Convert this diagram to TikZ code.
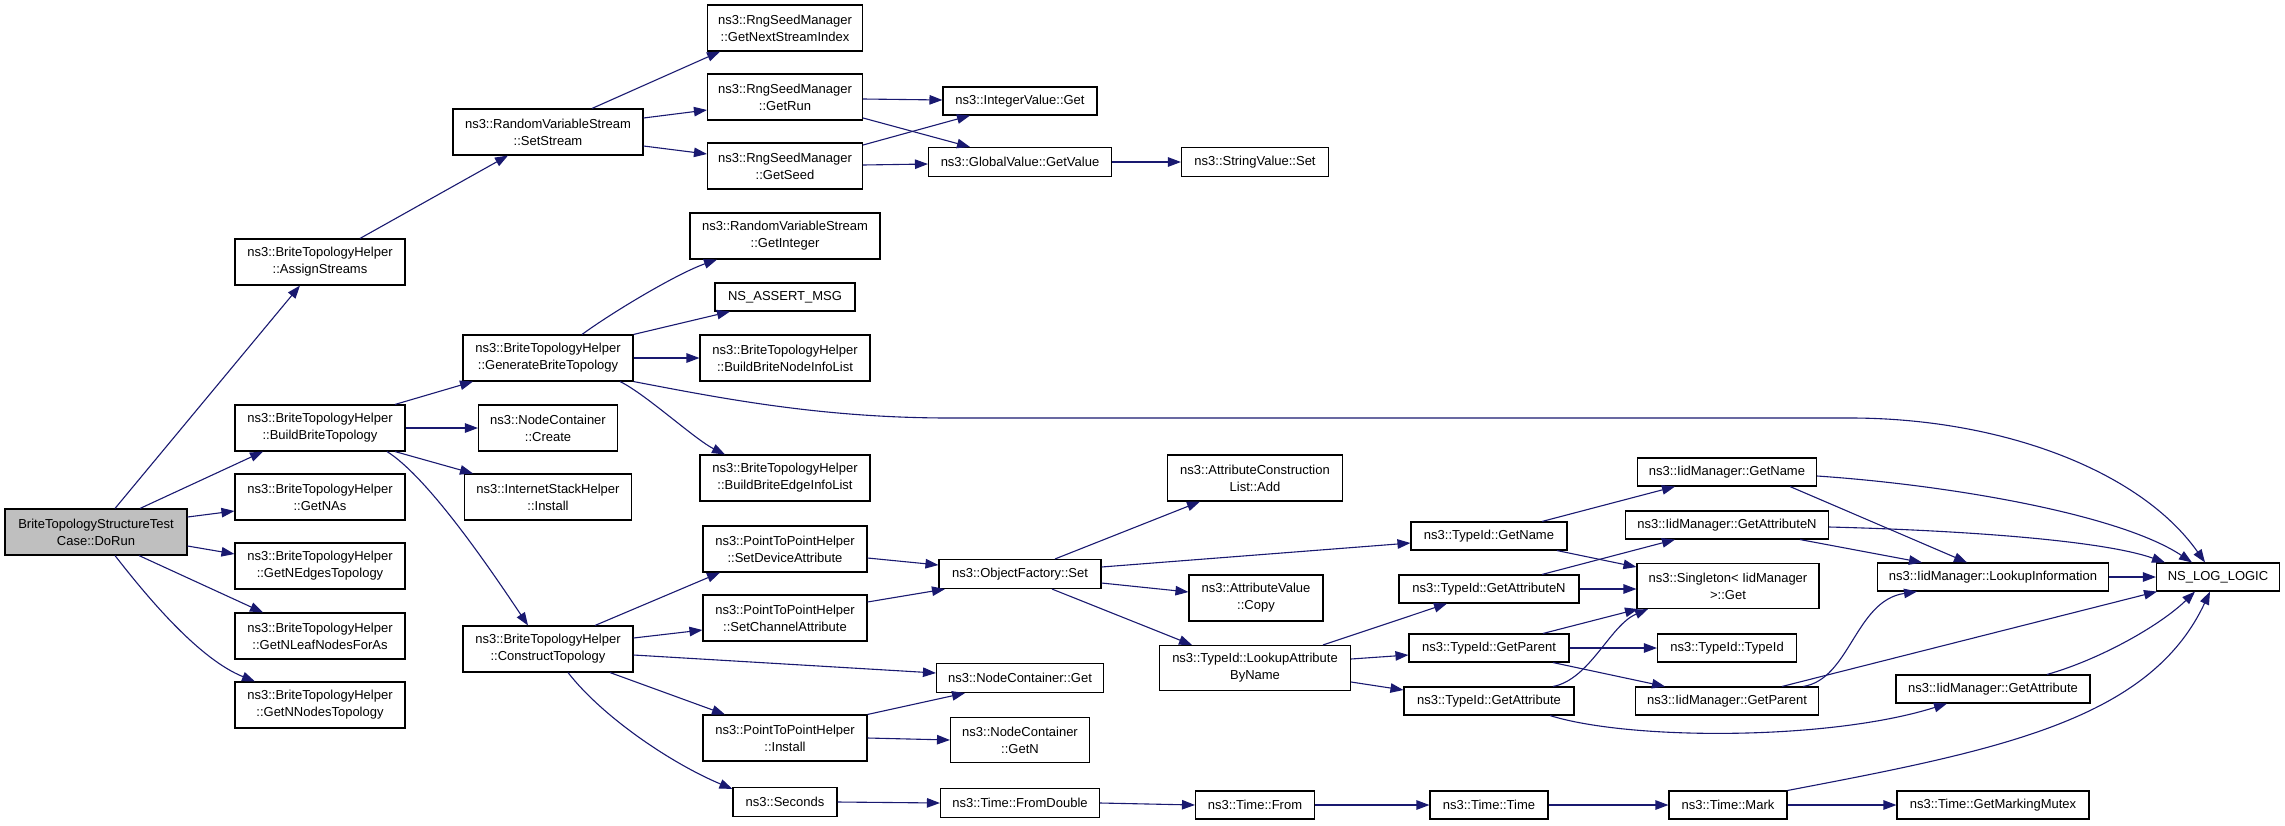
\documentclass[tikz,border=0pt]{standalone}
\usepackage{fontspec}
\setmainfont{Liberation Sans}
\usetikzlibrary{arrows.meta}
\definecolor{edgeblue}{RGB}{25,25,112}
\definecolor{rootgray}{RGB}{191,191,191}
\begin{document}
\begin{tikzpicture}[x=1pt,y=-1pt,
  fn/.style={draw=black, line width=1.1pt, fill=white, inner sep=0pt, align=center, font=\fontsize{13}{17}\selectfont},
  edge/.style={draw=edgeblue, line width=1.1pt, -{Triangle[length=13pt,width=9.5pt]}, fill=none},
]
\useasboundingbox (0,0) rectangle (2285,825);
% nodes
\node[fn, fill=rootgray, minimum width=182pt, minimum height=46pt] (dorun) at (96,532) {BriteTopologyStructureTest\\Case::DoRun};
\node[fn, minimum width=170pt, minimum height=46pt] (assign) at (320,262) {ns3::BriteTopologyHelper\\::AssignStreams};
\node[fn, minimum width=170pt, minimum height=46pt] (build) at (320,428) {ns3::BriteTopologyHelper\\::BuildBriteTopology};
\node[fn, minimum width=170pt, minimum height=46pt] (getnas) at (320,497) {ns3::BriteTopologyHelper\\::GetNAs};
\node[fn, minimum width=170pt, minimum height=46pt] (getnedges) at (320,566) {ns3::BriteTopologyHelper\\::GetNEdgesTopology};
\node[fn, minimum width=170pt, minimum height=46pt] (getnleaf) at (320,636) {ns3::BriteTopologyHelper\\::GetNLeafNodesForAs};
\node[fn, minimum width=170pt, minimum height=46pt] (getnnodes) at (320,705) {ns3::BriteTopologyHelper\\::GetNNodesTopology};
\node[fn, minimum width=190pt, minimum height=46pt] (setstream) at (548,132) {ns3::RandomVariableStream\\::SetStream};
\node[fn, minimum width=155pt, minimum height=46pt] (nextidx) at (785,28) {ns3::RngSeedManager\\::GetNextStreamIndex};
\node[fn, minimum width=155pt, minimum height=46pt] (getrun) at (785,97) {ns3::RngSeedManager\\::GetRun};
\node[fn, minimum width=155pt, minimum height=46pt] (getseed) at (785,166) {ns3::RngSeedManager\\::GetSeed};
\node[fn, minimum width=190pt, minimum height=46pt] (getinteger) at (785,236) {ns3::RandomVariableStream\\::GetInteger};
\node[fn, minimum width=140pt, minimum height=28pt] (assertmsg) at (785,297) {NS\_ASSERT\_MSG};
\node[fn, minimum width=170pt, minimum height=46pt] (nodeinfo) at (785,358) {ns3::BriteTopologyHelper\\::BuildBriteNodeInfoList};
\node[fn, minimum width=170pt, minimum height=46pt] (generate) at (548,358) {ns3::BriteTopologyHelper\\::GenerateBriteTopology};
\node[fn, minimum width=139pt, minimum height=46pt] (create) at (548,428) {ns3::NodeContainer\\::Create};
\node[fn, minimum width=167pt, minimum height=46pt] (inetinstall) at (548,497) {ns3::InternetStackHelper\\::Install};
\node[fn, minimum width=170pt, minimum height=46pt] (edgeinfo) at (785,478) {ns3::BriteTopologyHelper\\::BuildBriteEdgeInfoList};
\node[fn, minimum width=164pt, minimum height=46pt] (setdev) at (785,549) {ns3::PointToPointHelper\\::SetDeviceAttribute};
\node[fn, minimum width=164pt, minimum height=46pt] (setchan) at (785,618) {ns3::PointToPointHelper\\::SetChannelAttribute};
\node[fn, minimum width=170pt, minimum height=46pt] (construct) at (548,649) {ns3::BriteTopologyHelper\\::ConstructTopology};
\node[fn, minimum width=164pt, minimum height=46pt] (p2pinstall) at (785,738) {ns3::PointToPointHelper\\::Install};
\node[fn, minimum width=104pt, minimum height=29pt] (seconds) at (785,802) {ns3::Seconds};
\node[fn, minimum width=154pt, minimum height=28pt] (intget) at (1020,101) {ns3::IntegerValue::Get};
\node[fn, minimum width=183pt, minimum height=29pt] (getvalue) at (1020,162) {ns3::GlobalValue::GetValue};
\node[fn, minimum width=147pt, minimum height=29pt] (strset) at (1255,162) {ns3::StringValue::Set};
\node[fn, minimum width=175pt, minimum height=46pt] (attradd) at (1255,478) {ns3::AttributeConstruction\\List::Add};
\node[fn, minimum width=162pt, minimum height=29pt] (ofset) at (1020,574) {ns3::ObjectFactory::Set};
\node[fn, minimum width=134pt, minimum height=46pt] (attrcopy) at (1256,598) {ns3::AttributeValue\\::Copy};
\node[fn, minimum width=191pt, minimum height=45pt] (lookupattr) at (1255,668) {ns3::TypeId::LookupAttribute\\ByName};
\node[fn, minimum width=167pt, minimum height=29pt] (ncget) at (1020,678) {ns3::NodeContainer::Get};
\node[fn, minimum width=139pt, minimum height=45pt] (ncgetn) at (1020,740) {ns3::NodeContainer\\::GetN};
\node[fn, minimum width=159pt, minimum height=29pt] (fromdouble) at (1020,803) {ns3::Time::FromDouble};
\node[fn, minimum width=119pt, minimum height=28pt] (from) at (1255,805) {ns3::Time::From};
\node[fn, minimum width=179pt, minimum height=28pt] (iidgetname) at (1727,472) {ns3::IidManager::GetName};
\node[fn, minimum width=156pt, minimum height=28pt] (tidgetname) at (1489,536) {ns3::TypeId::GetName};
\node[fn, minimum width=203pt, minimum height=28pt] (iidgetattrn) at (1727,525) {ns3::IidManager::GetAttributeN};
\node[fn, minimum width=182pt, minimum height=45pt] (singleton) at (1728,586) {ns3::Singleton< IidManager\\>::Get};
\node[fn, minimum width=180pt, minimum height=28pt] (tidgetattrn) at (1489,589) {ns3::TypeId::GetAttributeN};
\node[fn, minimum width=160pt, minimum height=28pt] (tidgetparent) at (1489,648) {ns3::TypeId::GetParent};
\node[fn, minimum width=139pt, minimum height=28pt] (tidtypeid) at (1727,648) {ns3::TypeId::TypeId};
\node[fn, minimum width=170pt, minimum height=28pt] (tidgetattr) at (1489,701) {ns3::TypeId::GetAttribute};
\node[fn, minimum width=183pt, minimum height=28pt] (iidgetparent) at (1727,701) {ns3::IidManager::GetParent};
\node[fn, minimum width=118pt, minimum height=28pt] (timetime) at (1489,805) {ns3::Time::Time};
\node[fn, minimum width=118pt, minimum height=28pt] (mark) at (1728,805) {ns3::Time::Mark};
\node[fn, minimum width=231pt, minimum height=28pt] (lookupinfo) at (1993,577) {ns3::IidManager::LookupInformation};
\node[fn, minimum width=123pt, minimum height=28pt] (nslog) at (2218,577) {NS\_LOG\_LOGIC};
\node[fn, minimum width=194pt, minimum height=28pt] (iidgetattr) at (1993,689) {ns3::IidManager::GetAttribute};
\node[fn, minimum width=192pt, minimum height=28pt] (mutex) at (1993,805) {ns3::Time::GetMarkingMutex};
% edges
\draw[edge] ([xshift=19pt]dorun.north) -- ([xshift=-20pt]assign.south);
\draw[edge] ([xshift=44pt]dorun.north) -- ([xshift=-57pt]build.south);
\draw[edge] ([yshift=15pt]dorun.east) -- ([yshift=-14pt]getnas.west);
\draw[edge] ([yshift=-14pt]dorun.east) -- ([yshift=12pt]getnedges.west);
\draw[edge] ([xshift=43pt]dorun.south) -- ([xshift=-57pt]getnleaf.north);
\draw[edge] ([xshift=19pt]dorun.south) .. controls +(35,45) and +(-55,-22) .. ([xshift=-65pt]getnnodes.north);
\draw[edge] ([xshift=40pt]assign.north) -- ([xshift=-40pt]setstream.south);
\draw[edge] ([xshift=44pt]setstream.north) -- ([xshift=-65pt]nextidx.south);
\draw[edge] ([yshift=14pt]setstream.east) -- ([yshift=-13pt]getrun.west);
\draw[edge] ([yshift=-14pt]setstream.east) -- ([yshift=12pt]getseed.west);
\draw[edge] ([yshift=-2pt]getrun.east) -- ([yshift=1pt]intget.west);
\draw[edge] ([yshift=-21pt]getrun.east) -- ([xshift=-50pt]getvalue.north);
\draw[edge] ([yshift=21pt]getseed.east) -- ([xshift=-50pt]intget.south);
\draw[edge] ([yshift=1pt]getseed.east) -- ([yshift=-2pt]getvalue.west);
\draw[edge] (getvalue.east) -- (strset.west);
\draw[edge] ([xshift=75pt]build.north) -- ([xshift=-75pt]generate.south);
\draw[edge] (build.east) -- (create.west);
\draw[edge] ([xshift=75pt]build.south) -- ([xshift=-75pt]inetinstall.north);
\draw[edge] ([xshift=67pt]build.south) .. controls +(40,25) and +(-40,-60) .. ([xshift=-20pt]construct.north);
\draw[edge] ([xshift=34pt]generate.north) .. controls +(30,-22) and +(-40,14) .. ([xshift=-68pt]getinteger.south);
\draw[edge] (generate.north east) -- ([xshift=-55pt]assertmsg.south);
\draw[edge] (generate.east) -- (nodeinfo.west);
\draw[edge] ([xshift=72pt]generate.south) .. controls +(25,12) and +(-30,-15) .. ([xshift=-60pt]edgeinfo.north);
\draw[edge] (generate.south east) .. controls (720,398) and (820,418) .. (950,418) -- (1850,418) .. controls (2000,418) and (2140,470) .. ([xshift=-13pt]nslog.north);
\draw[edge] ([xshift=47pt]construct.north) -- ([xshift=-65pt]setdev.south);
\draw[edge] ([yshift=11pt]construct.east) -- ([yshift=-12pt]setchan.west);
\draw[edge] ([yshift=-6pt]construct.east) -- ([yshift=5pt]ncget.west);
\draw[edge] ([xshift=62pt]construct.south) -- ([xshift=-60pt]p2pinstall.north);
\draw[edge] ([xshift=20pt]construct.south) .. controls +(35,45) and +(-60,-25) .. ([yshift=-2pt]seconds.north west);
\draw[edge] ([yshift=-9pt]setdev.east) -- ([yshift=9pt]ofset.west);
\draw[edge] ([yshift=16pt]setchan.east) -- ([xshift=-75pt]ofset.south);
\draw[edge] (p2pinstall.north east) -- ([xshift=-55pt]ncget.south);
\draw[edge] (p2pinstall.east) -- (ncgetn.west);
\draw[edge] (seconds.east) -- (fromdouble.west);
\draw[edge] (fromdouble.east) -- (from.west);
\draw[edge] (from.east) -- (timetime.west);
\draw[edge] (timetime.east) -- (mark.west);
\draw[edge] (mark.east) -- (mutex.west);
\draw[edge] (mark.north east) .. controls (2000,750) and (2150,720) .. ([xshift=-8pt]nslog.south);
\draw[edge] ([xshift=35pt]ofset.north) -- ([xshift=-55pt]attradd.south);
\draw[edge] ([yshift=7pt]ofset.east) -- ([yshift=-7pt]tidgetname.west);
\draw[edge] ([yshift=-9pt]ofset.east) -- ([yshift=6pt]attrcopy.west);
\draw[edge] ([xshift=32pt]ofset.south) -- ([xshift=-63pt]lookupattr.north);
\draw[edge] ([xshift=68pt]lookupattr.north) -- ([xshift=-42pt]tidgetattrn.south);
\draw[edge] ([yshift=9pt]lookupattr.east) -- ([yshift=-7pt]tidgetparent.west);
\draw[edge] ([yshift=-14pt]lookupattr.east) -- ([yshift=11pt]tidgetattr.west);
\draw[edge] ([xshift=53pt]tidgetname.north) -- ([xshift=-52pt]iidgetname.south);
\draw[edge] ([xshift=68pt]tidgetname.south) -- ([yshift=19pt]singleton.west);
\draw[edge] ([xshift=53pt]tidgetattrn.north) -- ([xshift=-52pt]iidgetattrn.south);
\draw[edge] (tidgetattrn.east) -- ([yshift=-3pt]singleton.west);
\draw[edge] ([xshift=54pt]tidgetparent.north) -- ([xshift=-90pt]singleton.south);
\draw[edge] (tidgetparent.east) -- (tidtypeid.west);
\draw[edge] ([xshift=64pt]tidgetparent.south) -- ([xshift=-62pt]iidgetparent.north);
\draw[edge] ([xshift=64pt]tidgetattr.north) .. controls +(37,-7) and +(-38,16) .. ([xshift=-80pt]singleton.south);
\draw[edge] ([xshift=61pt]tidgetattr.south) .. controls +(80,25) and +(-117,37) .. ([xshift=-46pt]iidgetattr.south);
\draw[edge] ([yshift=-4pt]iidgetname.east) .. controls +(133,9) and +(-72,-48) .. ([xshift=-26pt]nslog.north);
\draw[edge] ([xshift=63pt]iidgetname.south) -- ([xshift=-26pt]lookupinfo.north);
\draw[edge] ([yshift=-2pt]iidgetattrn.east) .. controls +(121,3) and +(-65,-23) .. ([xshift=-53pt]nslog.north);
\draw[edge] ([xshift=73pt]iidgetattrn.south) -- ([xshift=-71pt]lookupinfo.north);
\draw[edge] ([xshift=76pt]iidgetparent.north) .. controls +(47,-7) and +(-62,9) .. ([xshift=-76pt]lookupinfo.south);
\draw[edge] ([xshift=55pt]iidgetparent.north) -- ([xshift=-61pt]nslog.south);
\draw[edge] (lookupinfo.east) -- (nslog.west);
\draw[edge] ([xshift=54pt]iidgetattr.north) .. controls +(53,-15) and +(-35,34) .. ([xshift=-23pt]nslog.south);
\end{tikzpicture}
\end{document}
